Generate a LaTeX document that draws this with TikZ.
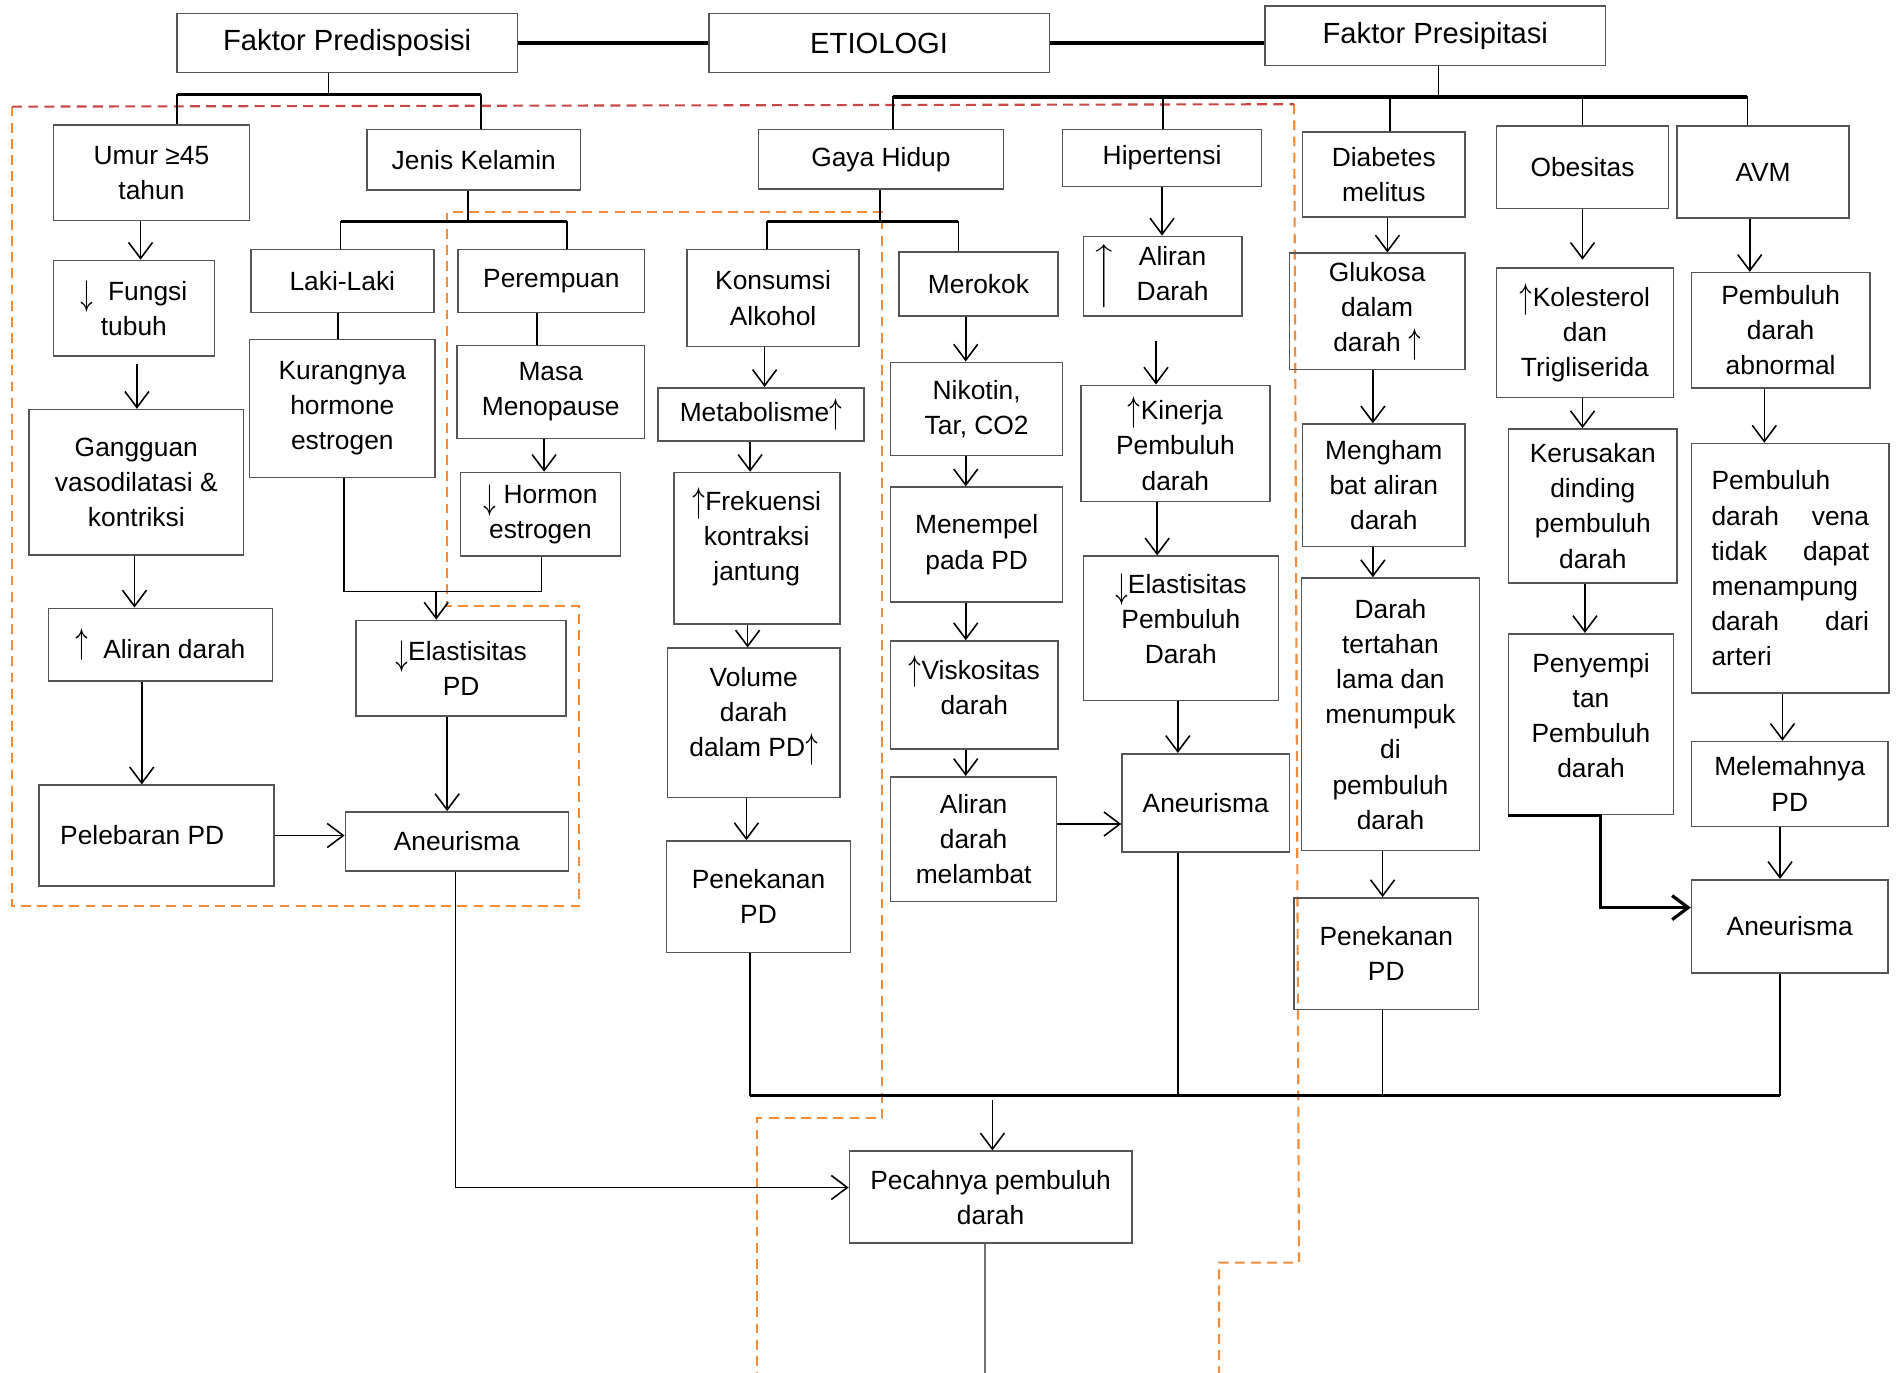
\documentclass[tikz,border=0pt]{standalone}
\usepackage{graphicx}
\usepackage{fontspec}
\setmainfont{Liberation Sans}
\usetikzlibrary{arrows.meta,calc}
\definecolor{zoneorange}{RGB}{240,140,60}
\definecolor{zonered}{RGB}{200,70,70}
\definecolor{boxgray}{RGB}{85,85,85}
\newlength\pxu
\setlength\pxu{0.012117cm}
\newcommand\fbody{\fontsize{7.5}{10}\selectfont}
\newcommand\fhead{\fontsize{8.3}{10}\selectfont}
\newcommand\up{\raisebox{-0.5pt}{\scalebox{0.9}[1.45]{$\uparrow$}}}
\newcommand\dn{\raisebox{-1.5pt}{\scalebox{0.9}[1.45]{$\downarrow$}}}
\tikzset{
  box/.style={draw=boxgray, line width=0.45pt, align=center, font=\fbody, inner sep=1pt},
  headbox/.style={box, font=\fhead},
  sz/.style 2 args={minimum width=#1\pxu, minimum height=#2\pxu},
  link/.style={line width=0.45pt},
  arr/.style={link, -{Straight Barb[length=1.6mm,width=2.4mm]}},
  bar/.style={line width=0.9pt},
  zone/.style={zoneorange, dash pattern=on 2.8pt off 1.8pt, line width=0.6pt},
}

\begin{document}
\begin{tikzpicture}[x=0.012117cm, y=-0.012117cm]
  \useasboundingbox (0,0) rectangle (1568,1133);

  % dashed zones
  \draw[zone] (10,88) -- (10,748) -- (478,748) -- (478,500) -- (369,500) -- (369,175) -- (728,175) -- (728,923) -- (625,923) -- (625,1133);
  \draw[zone] (1068,86) -- (1072,1042) -- (1006,1042) -- (1006,1133);
  \draw[zone, zonered] (10,88) -- (1068,86);

  % heading row
  \node[headbox, sz={281}{49}] (fpred) at (286.5,35.5) {Faktor Predisposisi};
  \node[headbox, sz={281}{49}] (etio) at (725.5,35.5) {ETIOLOGI};
  \node[headbox, sz={281}{49}] (fpres) at (1184.5,29.5) {Faktor Presipitasi};

  % predisposisi: umur
  \node[box, sz={162}{79}] (umur) at (125,142.5) {Umur ≥45\\tahun};
  \node[box, sz={133}{79}] (fungsi) at (110.5,254.5) {\dn\ \ Fungsi\\tubuh};
  \node[box, sz={177}{120}] (ganggu) at (112.5,398) {Gangguan\\vasodilatasi \&\\kontriksi};
  \node[box, sz={185}{60}] (alirA) at (132.5,532) {\raisebox{2pt}{\up}\ \ Aliran darah};
  \node[box, sz={194}{83}] (lebar) at (129,689.5) {Pelebaran PD\hspace*{8pt}};
  \node[box, sz={184}{49}] (aneuA) at (377,694.5) {Aneurisma};

  % predisposisi: jenis kelamin
  \node[box, sz={176}{50}] (jenis) at (391,132) {Jenis Kelamin};
  \node[box, sz={151}{52}] (laki) at (282.5,232) {Laki-Laki};
  \node[box, sz={154}{52}] (perem) at (455,232) {Perempuan};
  \node[box, sz={153}{114}] (kurang) at (282.5,337) {Kurangnya\\hormone\\estrogen};
  \node[box, sz={155}{77}] (masa) at (454.5,323.5) {Masa\\Menopause};
  \node[box, sz={132}{69}] (hormon) at (446,424.5) {\dn\ Hormon\\estrogen};
  \node[box, sz={173}{79}] (elasA) at (380.5,551.5) {\dn Elastisitas\\PD};

  % presipitasi: gaya hidup
  \node[box, sz={202}{49}] (gaya) at (727,131.5) {Gaya Hidup};
  \node[box, sz={142}{80}] (alkohol) at (638,246) {Konsumsi\\Alkohol};
  \node[box, sz={170}{44}] (metab) at (628,342) {Metabolisme\up};
  \node[box, sz={137}{125}] (frek) at (624.5,452.5) {\up Frekuensi\\kontraksi\\jantung\\[-1.8pt]};
  \node[box, sz={142}{123}] (volume) at (622,596.5) {Volume\\darah\\dalam PD\up\\[-3.8pt]};
  \node[box, sz={152}{92}] (tekanA) at (626,740) {Penekanan\\PD};
  \node[box, sz={131}{53}] (rokok) at (807.5,234.5) {Merokok};
  \node[box, sz={142}{77}] (nikotin) at (806,337.5) {Nikotin,\\Tar, CO2};
  \node[box, sz={142}{95}] (tempel) at (806,449.5) {Menempel\\pada PD};
  \node[box, sz={138}{89}] (visko) at (804,573.5) {\up Viskositas\\darah\\[-4.4pt]};
  \node[box, sz={137}{103}] (lambat) at (803.5,692.5) {Aliran\\darah\\melambat};

  % presipitasi: hipertensi
  \node[box, sz={164}{47}] (hiper) at (959,130.5) {Hipertensi};
  \node[box, sz={131}{66}] (alirB) at (959.5,228) {$\Big\uparrow$\hspace{6pt}\begin{tabular}{@{}c@{}}Aliran\\Darah\end{tabular}\hspace*{7pt}};
  \node[box, sz={156}{96}] (kinerja) at (970,366) {\up Kinerja\\Pembuluh\\darah};
  \node[box, sz={161}{119}] (elasB) at (974.5,518.5) {\dn Elastisitas\\Pembuluh\\Darah\\[-4.4pt]};
  \node[box, sz={138}{81}] (aneuB) at (995,662.5) {Aneurisma};

  % presipitasi: diabetes
  \node[box, sz={134}{70}] (diab) at (1142,144) {Diabetes\\melitus};
  \node[box, sz={145}{96}] (gluko) at (1136.5,257) {Glukosa\\dalam\\darah \up};
  \node[box, sz={134}{101}] (hambat) at (1142,400.5) {Mengham\\bat aliran\\darah};
  \node[box, sz={147}{225}] (tahan) at (1147.5,589.5) {Darah\\tertahan\\lama dan\\menumpuk\\di\\pembuluh\\darah};
  \node[box, sz={152}{92}] (tekanB) at (1144,787) {Penekanan\\PD};

  % presipitasi: obesitas
  \node[box, sz={142}{68}] (obes) at (1306,138) {Obesitas};
  \node[box, sz={146}{107}] (koles) at (1308,274.5) {\up Kolesterol\\dan\\Trigliserida};
  \node[box, sz={139}{127}] (rusak) at (1314.5,417.5) {Kerusakan\\dinding\\pembuluh\\darah};
  \node[box, sz={136}{149}] (sempit) at (1313,597.5) {Penyempi\\tan\\Pembuluh\\darah\\[-5.2pt]};

  % presipitasi: AVM
  \node[box, sz={142}{76}] (avm) at (1455,142) {AVM};
  \node[box, sz={147}{95}] (abnorm) at (1469.5,272.5) {Pembuluh\\darah\\abnormal};
  \node[box, sz={163}{206}, align=left, text width=130\pxu] (vena) at (1477.5,469) {Pembuluh\\darah\hfill vena\\tidak\hfill dapat\\menampung\\darah\hfill dari\\arteri\\[-4.4pt]};
  \node[box, sz={162}{70}] (lemah) at (1477,647) {Melemahnya\\PD};
  \node[box, sz={162}{77}] (aneuC) at (1477,764.5) {Aneurisma};

  \node[box, sz={233}{76}] (pecah) at (817.5,988) {Pecahnya pembuluh\\darah};

  % heading links
  \draw[bar] (fpred) -- (etio);
  \draw[bar] (etio.east) -- (etio.east -| fpres.west);

  % predisposisi tree
  \coordinate (pdj) at (271,78);
  \draw[link] (fpred.south -| pdj) -- (pdj);
  \draw[link] (umur.north -| 146,0) |- (pdj) -| (jenis.north -| 397,0);
  \draw[bar] (146,0 |- pdj) -- (397,0 |- pdj);
  \draw[arr] (umur.south -| 116,0) -- (fungsi.north -| 116,0);
  \draw[arr] ($(fungsi.south -| 113,0)+(0,6)$) -- (ganggu.north -| 113,0);
  \draw[arr] (ganggu.south -| 111,0) -- (alirA.north -| 111,0);
  \draw[arr] (alirA.south -| 117,0) -- (lebar.north -| 117,0);
  \draw[arr] (lebar.east) -- (lebar.east -| aneuA.west);

  \coordinate (jkj) at (386,183);
  \draw[link] (jenis.south -| jkj) -- (jkj);
  \draw[link] (laki.north -| 281,0) |- (jkj) -| (perem.north -| 468,0);
  \draw[bar] (281,0 |- jkj) -- (468,0 |- jkj);
  \draw[link] (laki.south -| 279,0) -- (kurang.north -| 279,0);
  \draw[link] (perem.south -| 443,0) -- (masa.north -| 443,0);
  \draw[arr] (masa.south -| 449,0) -- (hormon.north -| 449,0);
  \coordinate (khj) at (360,488);
  \draw[link] (kurang.south -| 284,0) |- (khj) -| (hormon.south -| 447,0);
  \draw[arr] (khj) -- (khj |- elasA.north);
  \draw[arr] (elasA.south -| 369,0) -- (aneuA.north -| 369,0);
  \draw[arr] (aneuA.south -| 376,0) |- ([yshift=8\pxu]pecah.west);

  % presipitasi tree
  \coordinate (psj) at (1187,80);
  \draw[link] (fpres.south -| psj) -- (psj);
  \draw[link] (gaya.north -| 737,0) |- (psj) -| (avm.north -| 1442,0);
  \draw[bar] (737,0 |- psj) -- (1442,0 |- psj);
  \draw[link] (hiper.north -| 960,0) -- (960,0 |- psj);
  \draw[link] (diab.north -| 1147,0) -- (1147,0 |- psj);
  \draw[link] (obes.north -| 1306,0) -- (1306,0 |- psj);

  % gaya hidup
  \coordinate (ghj) at (726,183);
  \draw[link] (gaya.south -| ghj) -- (ghj);
  \draw[link] (alkohol.north -| 633,0) |- (ghj) -| (rokok.north -| 791,0);
  \draw[bar] (633,0 |- ghj) -- (791,0 |- ghj);
  \draw[arr] (alkohol.south -| 631,0) -- (metab.north -| 631,0);
  \draw[arr] (metab.south -| 619,0) -- (frek.north -| 619,0);
  \draw[arr] (frek.south -| 617,0) -- (volume.north -| 617,0);
  \draw[arr] (volume.south -| 616,0) -- (tekanA.north -| 616,0);
  \draw[arr] (rokok.south -| 797,0) -- (nikotin.north -| 797,0);
  \draw[arr] (nikotin.south -| 797,0) -- (tempel.north -| 797,0);
  \draw[arr] (tempel.south -| 797,0) -- (visko.north -| 797,0);
  \draw[arr] (visko.south -| 797,0) -- (lambat.north -| 797,0);
  \draw[arr] (lambat.east |- 0,680) -- (aneuB.west |- 0,680);

  % hipertensi
  \draw[arr] (hiper.south -| 959,0) -- (alirB.north -| 959,0);
  \draw[arr] ($(alirB.south -| 954,0)+(0,20)$) -- (kinerja.north -| 954,0);
  \draw[arr] (kinerja.south -| 955,0) -- (elasB.north -| 955,0);
  \draw[arr] (elasB.south -| 972,0) -- (aneuB.north -| 972,0);

  % diabetes
  \draw[arr] (diab.south -| 1145,0) -- (gluko.north -| 1145,0);
  \draw[arr] (gluko.south -| 1133,0) -- (hambat.north -| 1133,0);
  \draw[arr] (hambat.south -| 1133,0) -- (tahan.north -| 1133,0);
  \draw[arr] (tahan.south -| 1141,0) -- (tekanB.north -| 1141,0);

  % obesitas
  \draw[arr] (obes.south -| 1306,0) -- ($(koles.north -| 1306,0)+(0,-6)$);
  \draw[arr] (koles.south -| 1306,0) -- (rusak.north -| 1306,0);
  \draw[arr] (rusak.south -| 1308,0) -- (sempit.north -| 1308,0);
  \draw[arr, bar] (sempit.south west) -- (sempit.south -| 1321,0) |- (aneuC.west |- 0,749);

  % AVM
  \draw[arr] (avm.south -| 1444,0) -- (abnorm.north -| 1444,0);
  \draw[arr] (abnorm.south -| 1456,0) -- (vena.north -| 1456,0);
  \draw[arr] (vena.south -| 1471,0) -- (lemah.north -| 1471,0);
  \draw[arr] (lemah.south -| 1469,0) -- (aneuC.north -| 1469,0);

  % collecting bar
  \coordinate (btm) at (819,904);
  \draw[link] (tekanA.south -| 619,0) |- (btm) -| (aneuC.south -| 1469,0);
  \draw[bar] (619,0 |- btm) -- (1469,0 |- btm);
  \draw[link] (aneuB.south -| 972,0) -- (972,0 |- btm);
  \draw[link] (tekanB.south -| 1141,0) -- (1141,0 |- btm);
  \draw[arr] ([yshift=-4\pxu]btm) -- (pecah.north -| btm);
  \coordinate (pexit) at (813,1133);
  \draw[link, black!55] (pecah.south -| pexit) -- (pexit);
\end{tikzpicture}
\end{document}
